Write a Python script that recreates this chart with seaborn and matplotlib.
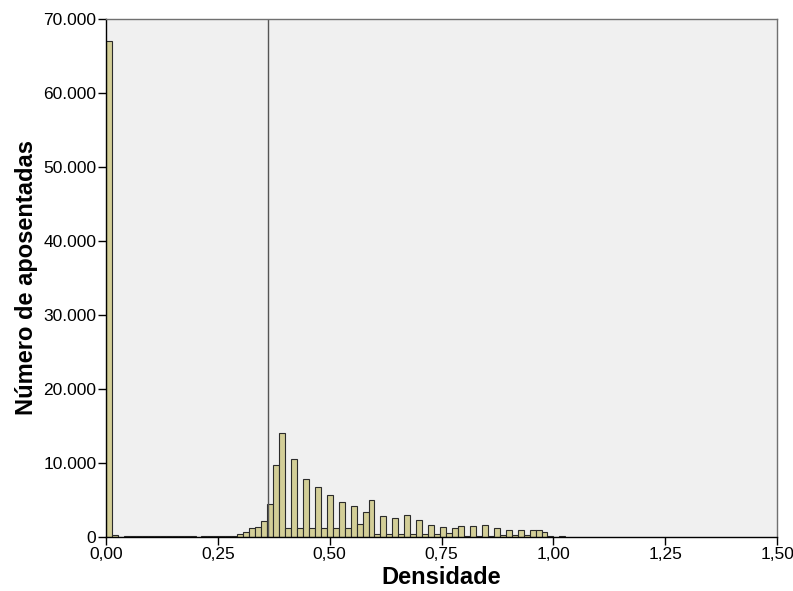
import numpy as np
import pandas as pd
import matplotlib
matplotlib.use('Agg')
import matplotlib.pyplot as plt
import seaborn as sns

# Histogram: bins of width 1/75 starting at 0
bin_width = 1 / 75
counts = [
    67000, 300, 0, 100, 100, 100, 100, 100, 100, 100,      # 0-9
    100, 100, 100, 100, 100, 0, 100, 100, 100, 100,        # 10-19
    100, 150, 400, 700, 1200, 1350, 2200, 4400, 9700, 14050,  # 20-29
    1260, 10580, 1260, 7880, 1260, 6800, 1200, 5720, 1200, 4770,  # 30-39
    1200, 4150, 1700, 3420, 5000, 400, 2800, 400, 2500, 400,  # 40-49
    2970, 400, 2250, 400, 1620, 400, 1300, 580, 1170, 1440,  # 50-59
    100, 1440, 150, 1620, 200, 1170, 270, 900, 270, 900,   # 60-69
    270, 900, 900, 720, 100, 0, 150,                       # 70-76
]
ref_line = 0.362

x_ticks = [0, 0.25, 0.5, 0.75, 1.0, 1.25, 1.5]
x_labels = ['0,00', '0,25', '0,50', '0,75', '1,00', '1,25', '1,50']
y_ticks = [0, 10000, 20000, 30000, 40000, 50000, 60000, 70000]
y_labels = ['0', '10.000', '20.000', '30.000', '40.000', '50.000', '60.000', '70.000']

n_bins = len(counts)
df = pd.DataFrame({'densidade': (np.arange(n_bins) + 0.5) * bin_width, 'n': counts})

sns.set_style('white')
plt.rcParams['font.family'] = ['Liberation Sans', 'DejaVu Sans']
plt.rcParams['text.color'] = 'black'
plt.rcParams['axes.labelcolor'] = 'black'
plt.rcParams['xtick.bottom'] = True
plt.rcParams['ytick.left'] = True
plt.rcParams['xtick.major.size'] = 6
plt.rcParams['ytick.major.size'] = 6

fig = plt.figure(figsize=(7.93, 5.91), dpi=100)
ax = fig.add_axes([0.1337, 0.0914, 0.8463, 0.8765])
ax.set_facecolor('#F0F0F0')

sns.histplot(data=df, x='densidade', weights='n', binwidth=bin_width,
             binrange=(0, n_bins * bin_width), ax=ax,
             color='#D3CE97', edgecolor='#2B2B2B', linewidth=0.8, alpha=1)

ax.axvline(ref_line, color='#555555', linewidth=1)

ax.set_xlim(0, 1.5)
ax.set_ylim(0, 70000)
ax.set_xticks(x_ticks)
ax.set_xticklabels(x_labels, fontsize=12.5)
ax.set_yticks(y_ticks)
ax.set_yticklabels(y_labels, fontsize=12.5)
ax.tick_params(axis='both', which='major', bottom=True, left=True,
               direction='out', length=6, width=1, color='black',
               labelcolor='black', pad=1)

for side in ['top', 'right']:
    ax.spines[side].set_color('#707070')
for side in ['left', 'bottom']:
    ax.spines[side].set_color('black')
for sp in ax.spines.values():
    sp.set_linewidth(1)

ax.set_xlabel('Densidade', fontsize=17, fontweight='bold', labelpad=3)
ax.set_ylabel('Número de aposentadas', fontsize=17, fontweight='bold', labelpad=4)

fig.savefig('out.png', dpi=100)
